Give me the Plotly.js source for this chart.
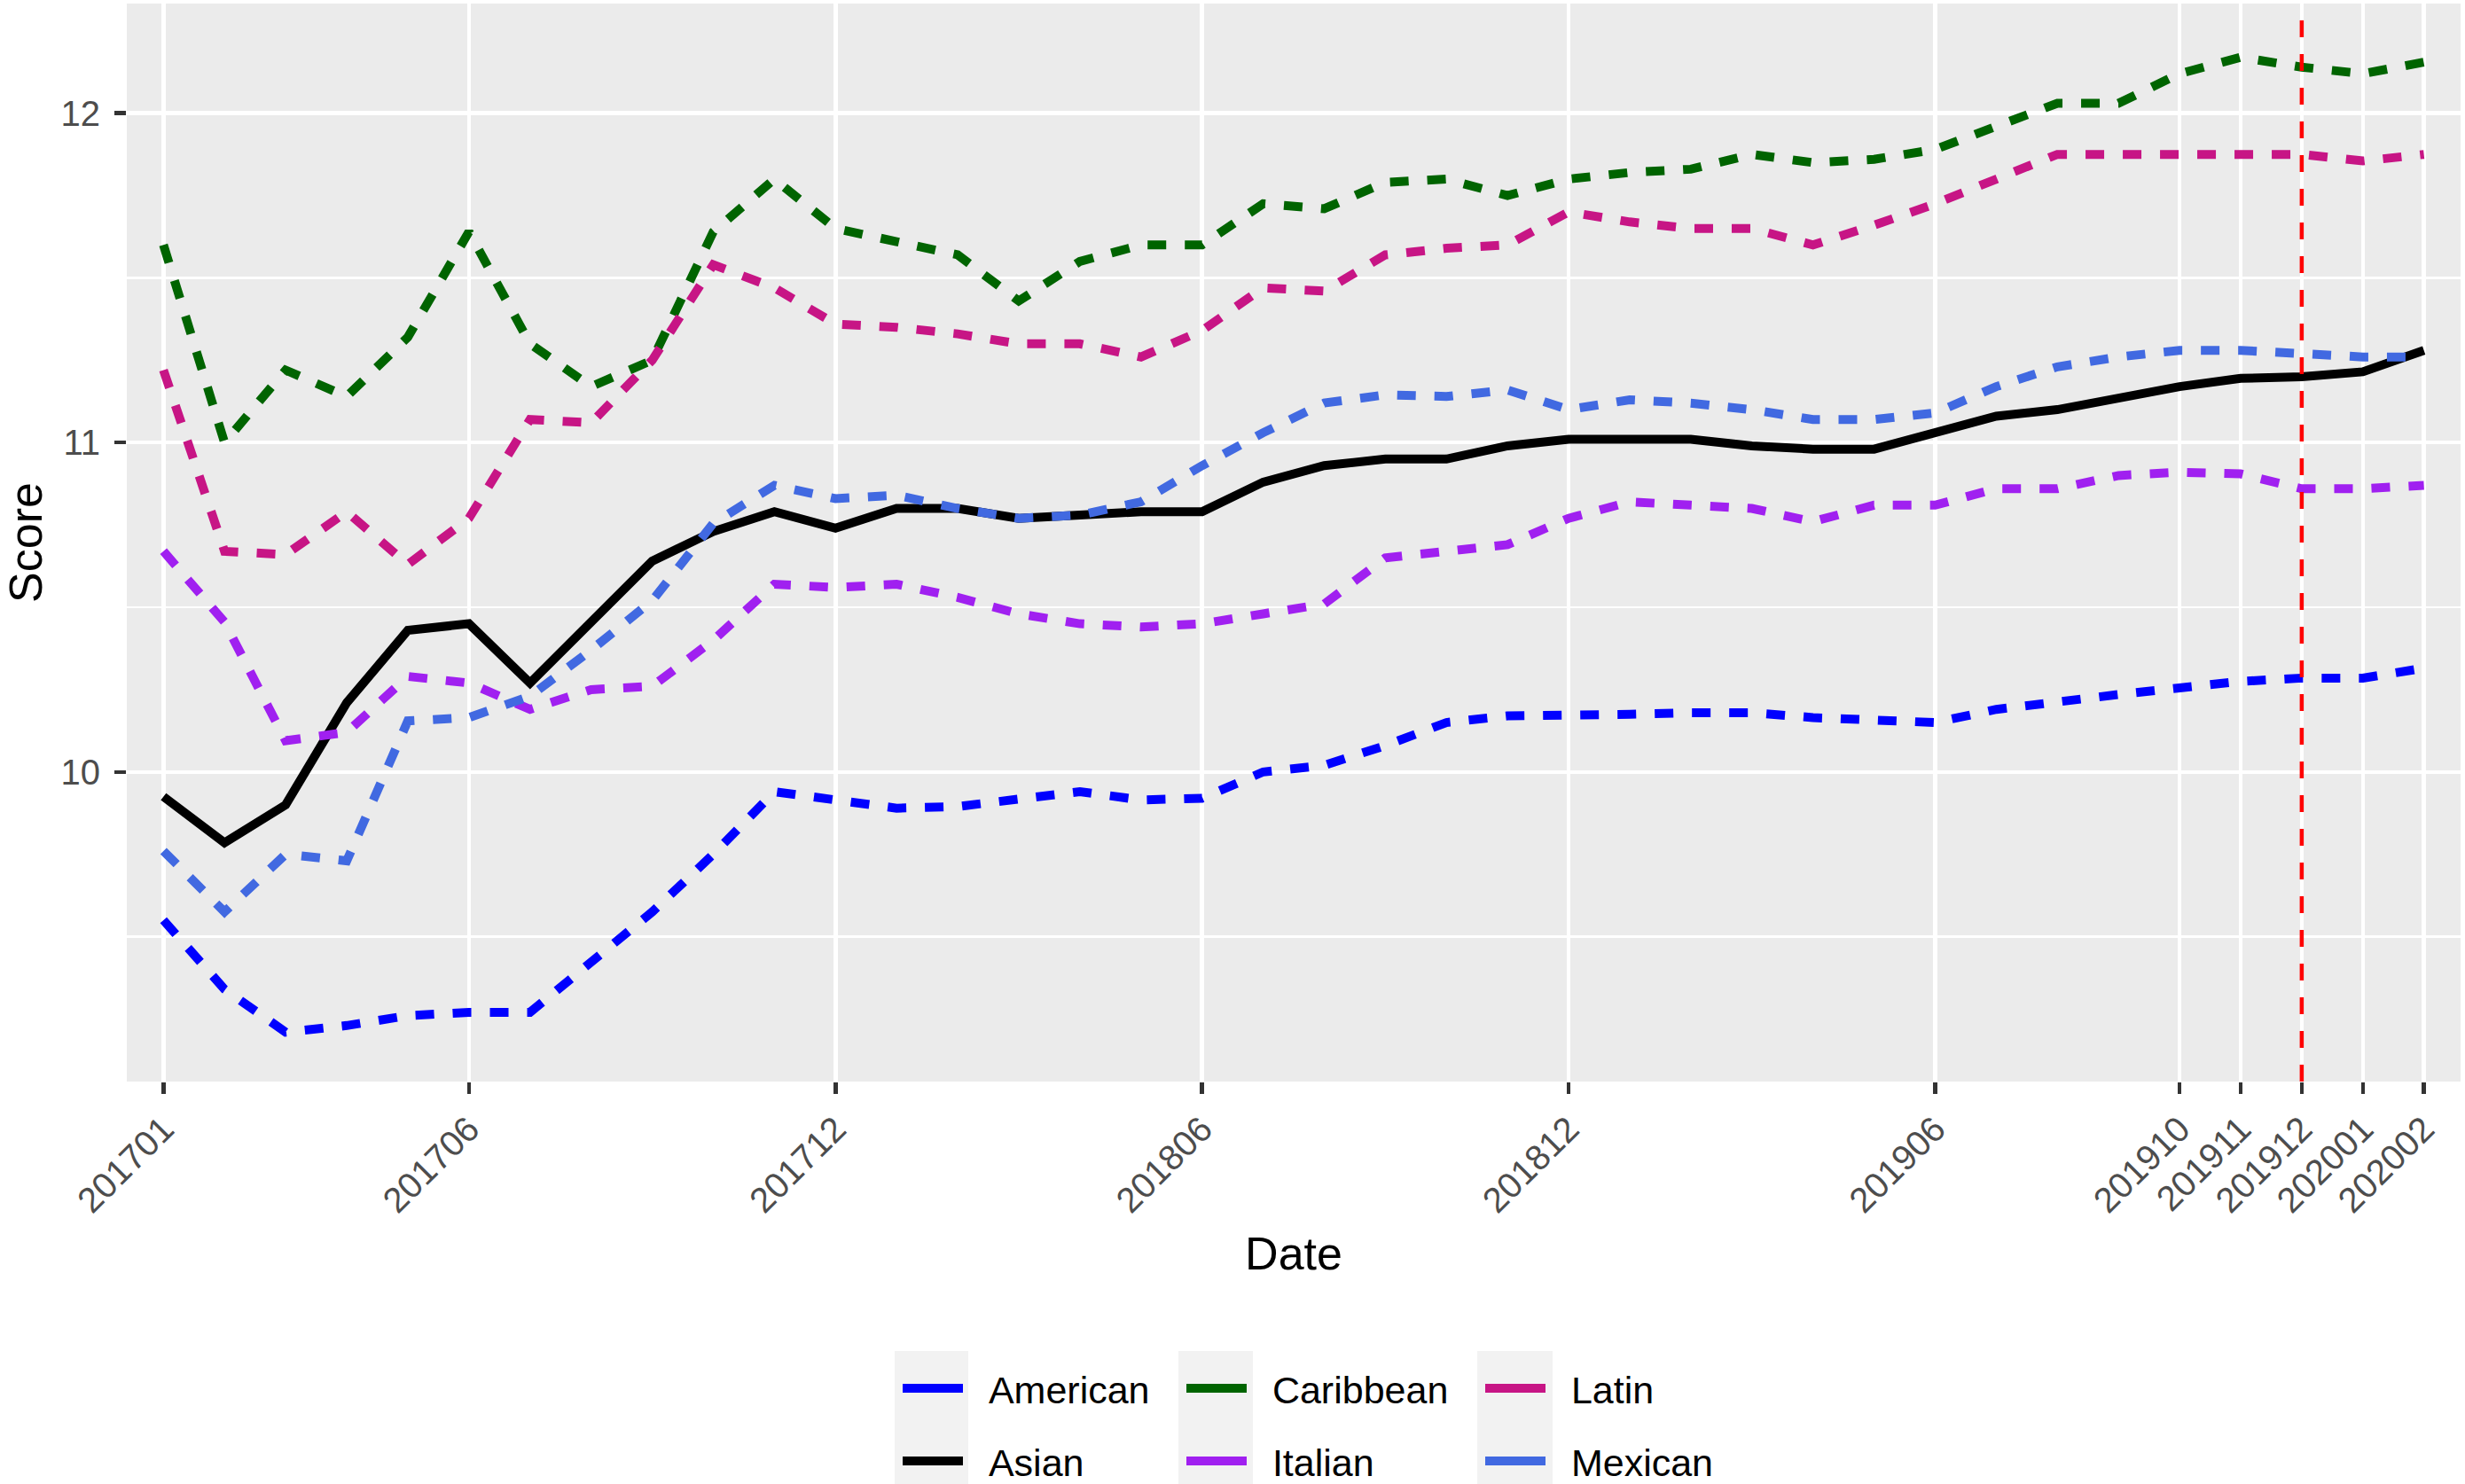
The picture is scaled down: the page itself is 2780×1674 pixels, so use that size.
<!DOCTYPE html>
<html>
<head>
<meta charset="utf-8">
<script src="https://cdn.plot.ly/plotly-3.0.1.min.js"></script>
<style>
  html, body { margin: 0; padding: 0; background: #ffffff; }
  #chart { width: 2780px; height: 1674px; }
</style>
</head>
<body>
<div id="chart"></div>
<script>
// monthly scores per cuisine, 201701 .. 202002
const months = [
  '201701', '201702', '201703', '201704', '201705', '201706', '201707', '201708', '201709', '201710', '201711', '201712',
  '201801', '201802', '201803', '201804', '201805', '201806', '201807', '201808', '201809', '201810', '201811', '201812',
  '201901', '201902', '201903', '201904', '201905', '201906', '201907', '201908', '201909', '201910', '201911', '201912',
  '202001', '202002'
];
const tickLabels = ['201701', '201706', '201712', '201806', '201812', '201906', '201910', '201911', '201912', '202001', '202002'];
const markerMonth = '201912';

const american = [
  9.55, 9.34, 9.21, 9.23, 9.26, 9.27, 9.27, 9.42, 9.575, 9.75,
  9.94, 9.915, 9.89, 9.895, 9.92, 9.94, 9.915, 9.92, 10.00, 10.02,
  10.08, 10.15, 10.17, 10.17, 10.175, 10.18, 10.18, 10.165, 10.16, 10.15,
  10.19, 10.215, 10.235, 10.255, 10.275, 10.285, 10.285, 10.315
];
const asian = [
  9.925, 9.785, 9.90, 10.21, 10.43, 10.45, 10.27, 10.455, 10.64, 10.73,
  10.79, 10.74, 10.80, 10.80, 10.77, 10.78, 10.79, 10.79, 10.88, 10.93,
  10.95, 10.95, 10.99, 11.01, 11.01, 11.01, 10.99, 10.98, 10.98, 11.03,
  11.08, 11.10, 11.135, 11.17, 11.195, 11.20, 11.215, 11.28
];
const caribbean = [
  11.60, 11.00, 11.22, 11.14, 11.32, 11.64, 11.30, 11.17, 11.25, 11.64,
  11.80, 11.65, 11.61, 11.57, 11.43, 11.55, 11.60, 11.60, 11.725, 11.71,
  11.79, 11.80, 11.75, 11.80, 11.82, 11.83, 11.875, 11.85, 11.86, 11.89,
  11.96, 12.03, 12.03, 12.12, 12.17, 12.14, 12.12, 12.155
];
const italian = [
  10.67, 10.455, 10.095, 10.12, 10.29, 10.27, 10.19, 10.25, 10.26, 10.40,
  10.57, 10.56, 10.57, 10.53, 10.48, 10.45, 10.44, 10.45, 10.48, 10.51,
  10.65, 10.67, 10.69, 10.77, 10.82, 10.81, 10.80, 10.76, 10.81, 10.81,
  10.86, 10.86, 10.90, 10.91, 10.905, 10.86, 10.86, 10.87
];
const latin = [
  11.22, 10.67, 10.66, 10.79, 10.63, 10.77, 11.07, 11.06, 11.25, 11.54,
  11.47, 11.36, 11.35, 11.33, 11.30, 11.30, 11.26, 11.34, 11.47, 11.46,
  11.57, 11.59, 11.60, 11.70, 11.67, 11.65, 11.65, 11.60, 11.66, 11.725,
  11.80, 11.875, 11.875, 11.875, 11.87, 11.875, 11.855, 11.875
];
const mexican = [
  9.76, 9.575, 9.75, 9.73, 10.155, 10.165, 10.23, 10.37, 10.52, 10.755,
  10.87, 10.83, 10.84, 10.80, 10.77, 10.78, 10.82, 10.93, 11.03, 11.12,
  11.145, 11.14, 11.16, 11.10, 11.13, 11.12, 11.10, 11.07, 11.07, 11.09,
  11.17, 11.23, 11.26, 11.28, 11.28, 11.27, 11.26, 11.26
];

(function () {
  'use strict';

  const FONT = 'Liberation Sans, Arial, sans-serif';
  const W = 2780, H = 1674;
  const M = { l: 143, r: 5, t: 4, b: 454 };
  const plotW = W - M.l - M.r;
  const plotH = H - M.t - M.b;

  // pixel -> paper helpers for things that live outside the panel
  const px = (x) => (x - M.l) / plotW;
  const py = (y) => (H - M.b - y) / plotH;

  const DASH = '21px,21px';
  const PAD = '\u00A0\u00A0'; // ggplot leaves a wider gap between key and label

  // legend columns as in the ggplot guide (filled column-wise, 2 rows)
  const series = [
    { name: 'American', y: american, color: '#0000FF', dash: DASH, col: 0, row: 0 },
    { name: 'Asian', y: asian, color: '#000000', dash: 'solid', col: 0, row: 1 },
    { name: 'Caribbean', y: caribbean, color: '#006400', dash: DASH, col: 1, row: 0 },
    { name: 'Italian', y: italian, color: '#A020F0', dash: DASH, col: 1, row: 1 },
    { name: 'Latin', y: latin, color: '#C71585', dash: DASH, col: 2, row: 0 },
    { name: 'Mexican', y: mexican, color: '#4169E1', dash: DASH, col: 2, row: 1 },
  ];

  const keyBoxX = [[1009, 1092], [1329, 1413], [1666, 1751]];
  const rowY = [1566, 1648];

  const legendKey = (i) => (i === 0 ? 'legend' : 'legend' + (i + 1));

  // the data lines themselves
  const traces = series.map((s) => ({
    x: months,
    y: s.y,
    type: 'scatter',
    mode: 'lines',
    name: s.name,
    showlegend: false,
    line: { color: s.color, width: 10, dash: s.dash },
    hoverinfo: 'skip',
  }));

  // legend keys: ggplot draws them as plain solid strokes
  series.forEach((s, i) => {
    traces.push({
      x: [null],
      y: [null],
      type: 'scatter',
      mode: 'lines',
      name: PAD + s.name,
      legend: legendKey(i),
      showlegend: true,
      line: { color: s.color, width: 10, dash: 'solid' },
      hoverinfo: 'skip',
    });
  });

  const layout = {
    width: W,
    height: H,
    margin: Object.assign({ autoexpand: false }, M),
    paper_bgcolor: '#FFFFFF',
    plot_bgcolor: '#EBEBEB',
    font: { family: FONT, color: '#000000' },
    showlegend: true,
    xaxis: {
      type: 'category',
      categoryorder: 'array',
      categoryarray: months,
      range: [-0.6, months.length - 1 + 0.6],
      tickvals: tickLabels,
      ticktext: tickLabels,
      tickangle: -45,
      tickfont: { size: 40, color: '#4D4D4D', family: FONT },
      ticks: 'outside',
      ticklen: 13,
      tickwidth: 4.5,
      tickcolor: '#333333',
      showgrid: true,
      gridcolor: '#FFFFFF',
      gridwidth: 4.5,
      zeroline: false,
      showline: false,
      automargin: false,
      title: { text: 'Date', font: { size: 52, color: '#000000', family: FONT }, standoff: 20 },
    },
    yaxis: {
      range: [9.06, 12.333],
      tick0: 10,
      dtick: 1,
      tickfont: { size: 40, color: '#4D4D4D', family: FONT },
      ticks: 'outside',
      ticklen: 13,
      tickwidth: 4.5,
      tickcolor: '#333333',
      ticklabelstandoff: 8,
      showgrid: true,
      gridcolor: '#FFFFFF',
      gridwidth: 4.5,
      minor: { dtick: 0.5, tick0: 9.5, showgrid: true, gridcolor: '#FFFFFF', gridwidth: 2.3, ticks: '' },
      zeroline: false,
      showline: false,
      automargin: false,
      title: { text: 'Score', font: { size: 52, color: '#000000', family: FONT }, standoff: 22 },
    },
    shapes: [
      {
        type: 'line',
        xref: 'x',
        yref: 'paper',
        x0: months.indexOf(markerMonth),
        x1: months.indexOf(markerMonth),
        y0: 0,
        y1: 1,
        line: { color: '#FF0000', width: 4.5, dash: '19px,19px' },
      },
    ],
  };

  // grey key backgrounds behind the legend symbols
  keyBoxX.forEach(([x0, x1]) => {
    layout.shapes.push({
      type: 'rect',
      xref: 'paper',
      yref: 'paper',
      x0: px(x0),
      x1: px(x1),
      y0: py(1524),
      y1: py(1700),
      fillcolor: '#F2F2F2',
      line: { width: 0 },
      layer: 'below',
    });
  });

  series.forEach((s, i) => {
    layout[legendKey(i)] = {
      orientation: 'v',
      xref: 'paper',
      yref: 'paper',
      x: px(keyBoxX[s.col][0] + 4),
      y: py(rowY[s.row]),
      xanchor: 'left',
      yanchor: 'middle',
      itemwidth: 68,
      bgcolor: 'rgba(0,0,0,0)',
      borderwidth: 0,
      font: { size: 43, color: '#000000', family: FONT },
    };
  });

  Plotly.newPlot('chart', traces, layout, { displayModeBar: false, staticPlot: true });
})();
</script>
</body>
</html>
